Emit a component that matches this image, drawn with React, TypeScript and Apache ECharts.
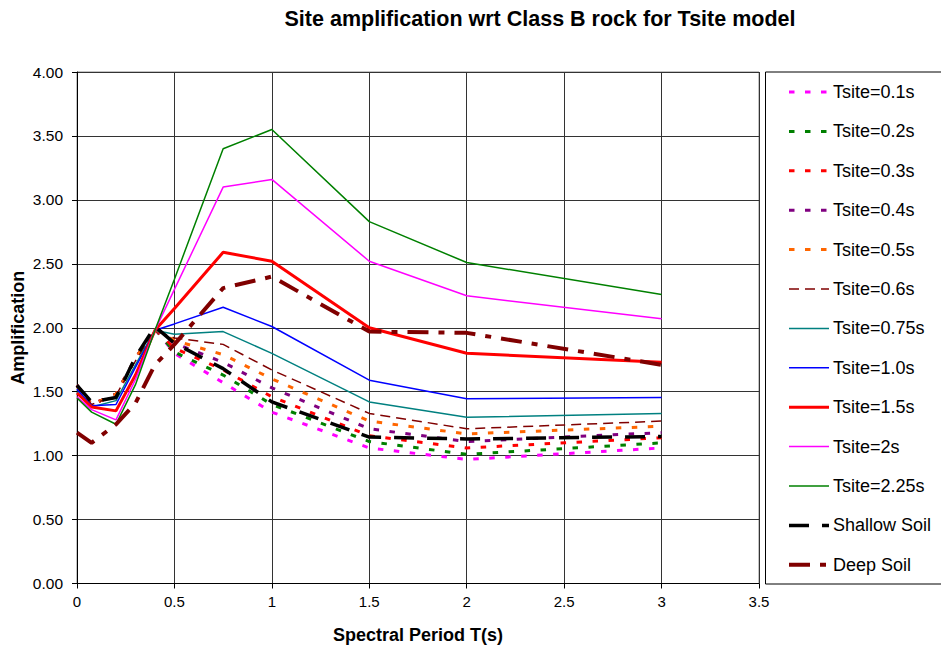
import React, { useEffect, useRef } from "react";
import * as echarts from "echarts";

const periods = [0, 0.075, 0.2, 0.3, 0.4, 0.5, 0.75, 1, 1.5, 2, 3];

const seriesNames = [
  "Tsite=0.1s",
  "Tsite=0.2s",
  "Tsite=0.3s",
  "Tsite=0.4s",
  "Tsite=0.5s",
  "Tsite=0.6s",
  "Tsite=0.75s",
  "Tsite=1.0s",
  "Tsite=1.5s",
  "Tsite=2s",
  "Tsite=2.25s",
  "Shallow Soil",
  "Deep Soil",
];

const t01 = [1.55, 1.4, 1.48, 1.76, 1.99, 1.8, 1.57, 1.34, 1.06, 0.97, 1.06];
const t02 = [1.55, 1.4, 1.48, 1.76, 1.99, 1.81, 1.63, 1.4, 1.11, 1.01, 1.1];
const t03 = [1.55, 1.4, 1.48, 1.76, 1.99, 1.84, 1.67, 1.46, 1.155, 1.06, 1.14];
const t04 = [1.55, 1.4, 1.48, 1.76, 1.99, 1.88, 1.73, 1.53, 1.21, 1.11, 1.18];
const t05 = [1.55, 1.4, 1.48, 1.76, 1.99, 1.9, 1.79, 1.6, 1.27, 1.17, 1.23];
const t06 = [1.54, 1.4, 1.47, 1.74, 1.98, 1.92, 1.87, 1.67, 1.33, 1.21, 1.27];
const t075 = [1.5, 1.38, 1.43, 1.71, 1.98, 1.95, 1.97, 1.8, 1.42, 1.3, 1.33];
const t10 = [1.52, 1.39, 1.4, 1.69, 1.98, 2.03, 2.16, 2.01, 1.59, 1.445, 1.455];
const t15 = [1.49, 1.38, 1.35, 1.63, 1.98, 2.15, 2.59, 2.52, 2.0, 1.8, 1.73];
const t20 = [1.46, 1.36, 1.28, 1.595, 1.98, 2.3, 3.1, 3.16, 2.52, 2.25, 2.07];
const t225 = [1.45, 1.34, 1.245, 1.555, 1.98, 2.38, 3.4, 3.55, 2.83, 2.51, 2.26];
const shallowSoil = [1.55, 1.42, 1.455, 1.77, 2.01, 1.88, 1.68, 1.42, 1.145, 1.13, 1.15];
const deepSoil = [1.18, 1.1, 1.245, 1.41, 1.71, 1.87, 2.31, 2.4, 1.97, 1.96, 1.71];

const seriesValues = [t01, t02, t03, t04, t05, t06, t075, t10, t15, t20, t225, shallowSoil, deepSoil];

const yTicks = [0, 0.5, 1, 1.5, 2, 2.5, 3, 3.5, 4];
const xTicks = [0, 0.5, 1, 1.5, 2, 2.5, 3, 3.5];

const styles: any[] = [
  { color: "#FF00FF", width: 3, type: [5.5, 10.5] },
  { color: "#008000", width: 3, type: [5.5, 10.5] },
  { color: "#FF0000", width: 3, type: [5.5, 10.5] },
  { color: "#800080", width: 3, type: [5.5, 10.5] },
  { color: "#FF6600", width: 3, type: [5.5, 10.5] },
  { color: "#800000", width: 1.5, type: [10, 6] },
  { color: "#008080", width: 1.5, type: "solid" },
  { color: "#0000FF", width: 1.5, type: "solid" },
  { color: "#FF0000", width: 3, type: "solid" },
  { color: "#FF00FF", width: 1.5, type: "solid" },
  { color: "#008000", width: 1.5, type: "solid" },
  { color: "#000000", width: 3.5, type: [20, 13] },
  { color: "#800000", width: 4, type: [21, 10, 6, 10] },
];

const FONT = "Liberation Sans, Arial, sans-serif";

export default function App() {
  const ref = useRef<HTMLDivElement>(null);
  useEffect(() => {
    if (!ref.current) return;
    const chart = echarts.init(ref.current, null, { renderer: "svg" });
    const series = seriesNames.map((name, i) => ({
      name,
      type: "line",
      data: periods.map((p, j) => [p, seriesValues[i][j]]),
      showSymbol: false,
      symbol: "none",
      lineStyle: { color: styles[i].color, width: styles[i].width, type: styles[i].type, cap: "butt" },
      itemStyle: { color: styles[i].color },
      z: 3,
    }));
    const legendData = seriesNames.map((name, i) => ({
      name,
      itemStyle: { opacity: 0 },
      lineStyle: { color: styles[i].color, width: styles[i].width, type: styles[i].type, cap: "butt" },
    }));
    chart.setOption({
      animation: false,
      backgroundColor: "#ffffff",
      title: {
        text: "Site amplification wrt Class B rock for Tsite model",
        left: 535,
        textAlign: "center",
        top: 3,
        textStyle: { fontFamily: FONT, fontWeight: "bold", fontSize: 21.5, color: "#000" },
      },
      grid: {
        left: 77,
        top: 72,
        width: 682,
        height: 511.5,
        show: true,
        borderColor: "#888",
        borderWidth: 1,
        containLabel: false,
        outerBoundsMode: "none",
      },
      legend: {
        orient: "vertical",
        left: 787,
        top: 83,
        padding: 0,
        itemWidth: 40,
        itemHeight: 14,
        itemGap: 21.4,
        data: legendData,
        itemStyle: { opacity: 0 },
        textStyle: { fontFamily: FONT, fontSize: 18, color: "#000", padding: [0, 0, 0, -1] },
      },
      graphic: [
        {
          type: "rect",
          shape: { x: 765.5, y: 72, width: 200, height: 512 },
          style: { fill: "none", stroke: "#000", lineWidth: 1 },
          z: 0,
        },
      ],
      xAxis: {
        type: "value",
        min: xTicks[0],
        max: xTicks[xTicks.length - 1],
        interval: 0.5,
        name: "Spectral Period T(s)",
        nameLocation: "middle",
        nameGap: 42,
        nameMoveOverlap: false,
        nameTextStyle: { fontFamily: FONT, fontWeight: "bold", fontSize: 18, color: "#000" },
        axisLine: { show: true, lineStyle: { color: "#000", width: 1 } },
        axisTick: { show: true, length: 5, inside: false, lineStyle: { color: "#000" } },
        axisLabel: {
          margin: 10,
          fontFamily: "Liberation Sans Narrow, Arial Narrow, Liberation Sans, sans-serif",
          fontSize: 15,
          color: "#000",
          formatter: (v: number) => String(v),
        },
        splitLine: { show: true, lineStyle: { color: "#333", width: 1 } },
      },
      yAxis: {
        type: "value",
        min: yTicks[0],
        max: yTicks[yTicks.length - 1],
        interval: 0.5,
        name: "Amplification",
        nameLocation: "middle",
        nameGap: 50,
        nameMoveOverlap: false,
        nameRotate: 90,
        nameTextStyle: { fontFamily: FONT, fontWeight: "bold", fontSize: 18, color: "#000" },
        axisLine: { show: true, lineStyle: { color: "#000", width: 1 } },
        axisTick: { show: true, length: 5, inside: false, lineStyle: { color: "#000" } },
        axisLabel: {
          margin: 14,
          fontFamily: FONT,
          fontSize: 15.5,
          color: "#000",
          formatter: (v: number) => v.toFixed(2),
        },
        splitLine: { show: true, lineStyle: { color: "#333", width: 1 } },
      },
      series,
    });
    return () => chart.dispose();
  }, []);
  return (
    <div
      ref={ref}
      style={{ position: "absolute", left: 0, top: 0, width: 941, height: 648, background: "#fff" }}
    />
  );
}
